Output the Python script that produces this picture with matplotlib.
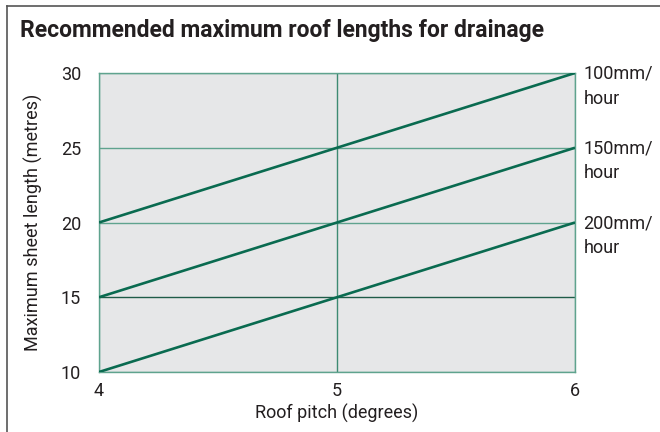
import matplotlib
matplotlib.use('Agg')
import matplotlib.pyplot as plt
from matplotlib.lines import Line2D

# --- Data ---
pitch = [4, 5, 6]
len_100 = [20, 25, 30]
len_150 = [15, 20, 25]
len_200 = [10, 15, 20]
series_labels = ['100mm/\nhour', '150mm/\nhour', '200mm/\nhour']
y_ticks = [10, 15, 20, 25, 30]
x_ticks = [4, 5, 6]

LINE_C = '#0a6b50'
GRID_C = '#5fa38e'
GRID_MID = '#3d8a72'
GRID_DARK = '#1f5c48'
BG = '#e6e7e8'
TXT = '#231f20'

plt.rcParams['font.family'] = ['Roboto', 'DejaVu Sans']

fig = plt.figure(figsize=(6.6, 4.32), dpi=100)
ax = fig.add_axes([99/660, 1 - 372/432, 476/660, 299/432])
ax.set_facecolor(BG)

# grid
for y in y_ticks:
    c = GRID_DARK if y == 15 else GRID_C
    ax.axhline(y, color=c, lw=1.0, zorder=1)
for x in x_ticks:
    ax.axvline(x, color=GRID_MID if x == 5 else GRID_C, lw=1.0, zorder=1)

for vals, lab in zip([len_100, len_150, len_200], series_labels):
    ax.plot(pitch, vals, color=LINE_C, lw=1.9, zorder=3, solid_capstyle='butt')
    ax.annotate(lab, xy=(pitch[-1], vals[-1]), xytext=(6, 6),
                textcoords='offset points', ha='left', va='top',
                fontsize=13, color=TXT, linespacing=1.5,
                annotation_clip=False)

ax.set_xlim(4, 6)
ax.set_ylim(10, 30)
ax.set_xticks(x_ticks)
ax.set_yticks(y_ticks)
ax.tick_params(length=0, labelsize=13, colors=TXT)
ax.tick_params(axis='y', pad=13)
ax.tick_params(axis='x', pad=7)
for s in ax.spines.values():
    s.set_color(GRID_C)
    s.set_linewidth(1.0)

ax.set_xlabel('Roof pitch (degrees)', fontsize=13, color=TXT, labelpad=3)
ax.set_ylabel('Maximum sheet length (metres)', fontsize=13, color=TXT, labelpad=13)

fig.text(20/660, 1 - 30/432, 'Recommended maximum roof lengths for drainage',
         fontsize=16.5, fontweight='bold', color=TXT, ha='left', va='center')

# frame lines (left and top)
fig.add_artist(Line2D([7/660, 7/660], [0, 1 - 6/432], color='#555555', lw=1.2,
                      transform=fig.transFigure))
fig.add_artist(Line2D([7/660, 1], [1 - 6/432, 1 - 6/432], color='#555555', lw=1.2,
                      transform=fig.transFigure))

fig.savefig('out.png', dpi=100)
